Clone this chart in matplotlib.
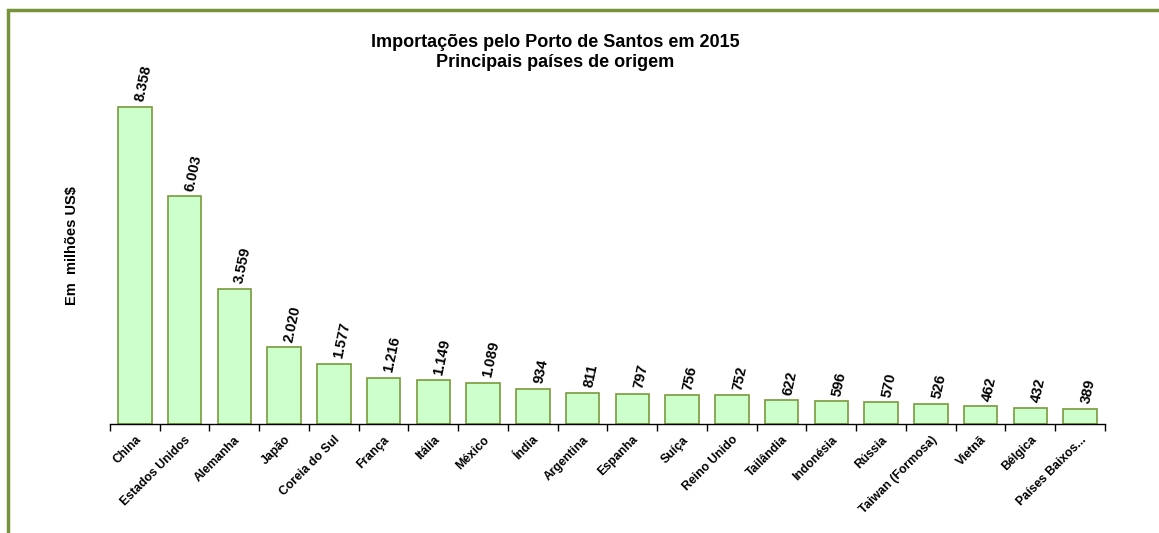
import numpy as np
import matplotlib
matplotlib.use('Agg')
import matplotlib.pyplot as plt
from matplotlib.patches import Rectangle

plt.rcParams['font.family'] = ['Liberation Sans', 'DejaVu Sans']

paises = ['China', 'Estados Unidos', 'Alemanha', 'Japão', 'Coreia do Sul',
          'França', 'Itália', 'México', 'Índia', 'Argentina', 'Espanha',
          'Suíça', 'Reino Unido', 'Tailândia', 'Indonésia', 'Rússia',
          'Taiwan (Formosa)', 'Vietnã', 'Bélgica', 'Países Baixos...']
valores = [8358, 6003, 3559, 2020, 1577, 1216, 1149, 1089, 934, 811,
           797, 756, 752, 622, 596, 570, 526, 462, 432, 389]

def fmt(v):
    # separador de milhar no padrao brasileiro
    return f"{v:,}".replace(',', '.')

fig = plt.figure(figsize=(11.59, 5.33), dpi=100)
ax = fig.add_axes([0.0949, 0.2045, 0.8585, 0.64])

x = np.arange(len(paises))
bars = ax.bar(x, valores, width=0.67, color='#CCFFCC', edgecolor='#7A9A3C',
              linewidth=1.2, zorder=2)

for b, v in zip(bars, valores):
    ax.annotate(fmt(v), (b.get_x() + b.get_width() / 2, v),
                xytext=(6, 3), textcoords='offset points',
                rotation=78, ha='center', va='bottom',
                fontsize=10.5, fontweight='bold')

ax.set_xlim(-0.5, len(paises) - 0.5)
ax.set_ylim(0, 9000)

ax.set_xticks(x)
ax.set_xticklabels(paises, rotation=45, ha='right', rotation_mode='anchor',
                   fontsize=8.8, fontweight='bold')
ax.tick_params(axis='x', which='major', length=0, pad=7)
ax.set_xticks(np.arange(len(paises) + 1) - 0.5, minor=True)
ax.tick_params(axis='x', which='minor', length=5, direction='out', width=1)
ax.set_yticks([])

for s in ['top', 'right', 'left']:
    ax.spines[s].set_visible(False)
ax.spines['bottom'].set_linewidth(1)

fig.text(0.479, 0.902, 'Importações pelo Porto de Santos em 2015\nPrincipais países de origem',
         ha='center', va='center', fontsize=13, fontweight='bold', linespacing=1.2)
fig.text(0.062, 0.54, 'Em  milhões US$', rotation=90, ha='center', va='center',
         fontsize=10.5, fontweight='bold')

# moldura verde cortada a direita e embaixo
fig.patches.append(Rectangle((8 / 1159, -0.1), 1.2, 1 - 10 / 533 + 0.1,
                             transform=fig.transFigure, fill=False,
                             edgecolor='#77933C', linewidth=2.5, zorder=0))

fig.savefig('out.png', dpi=100)
